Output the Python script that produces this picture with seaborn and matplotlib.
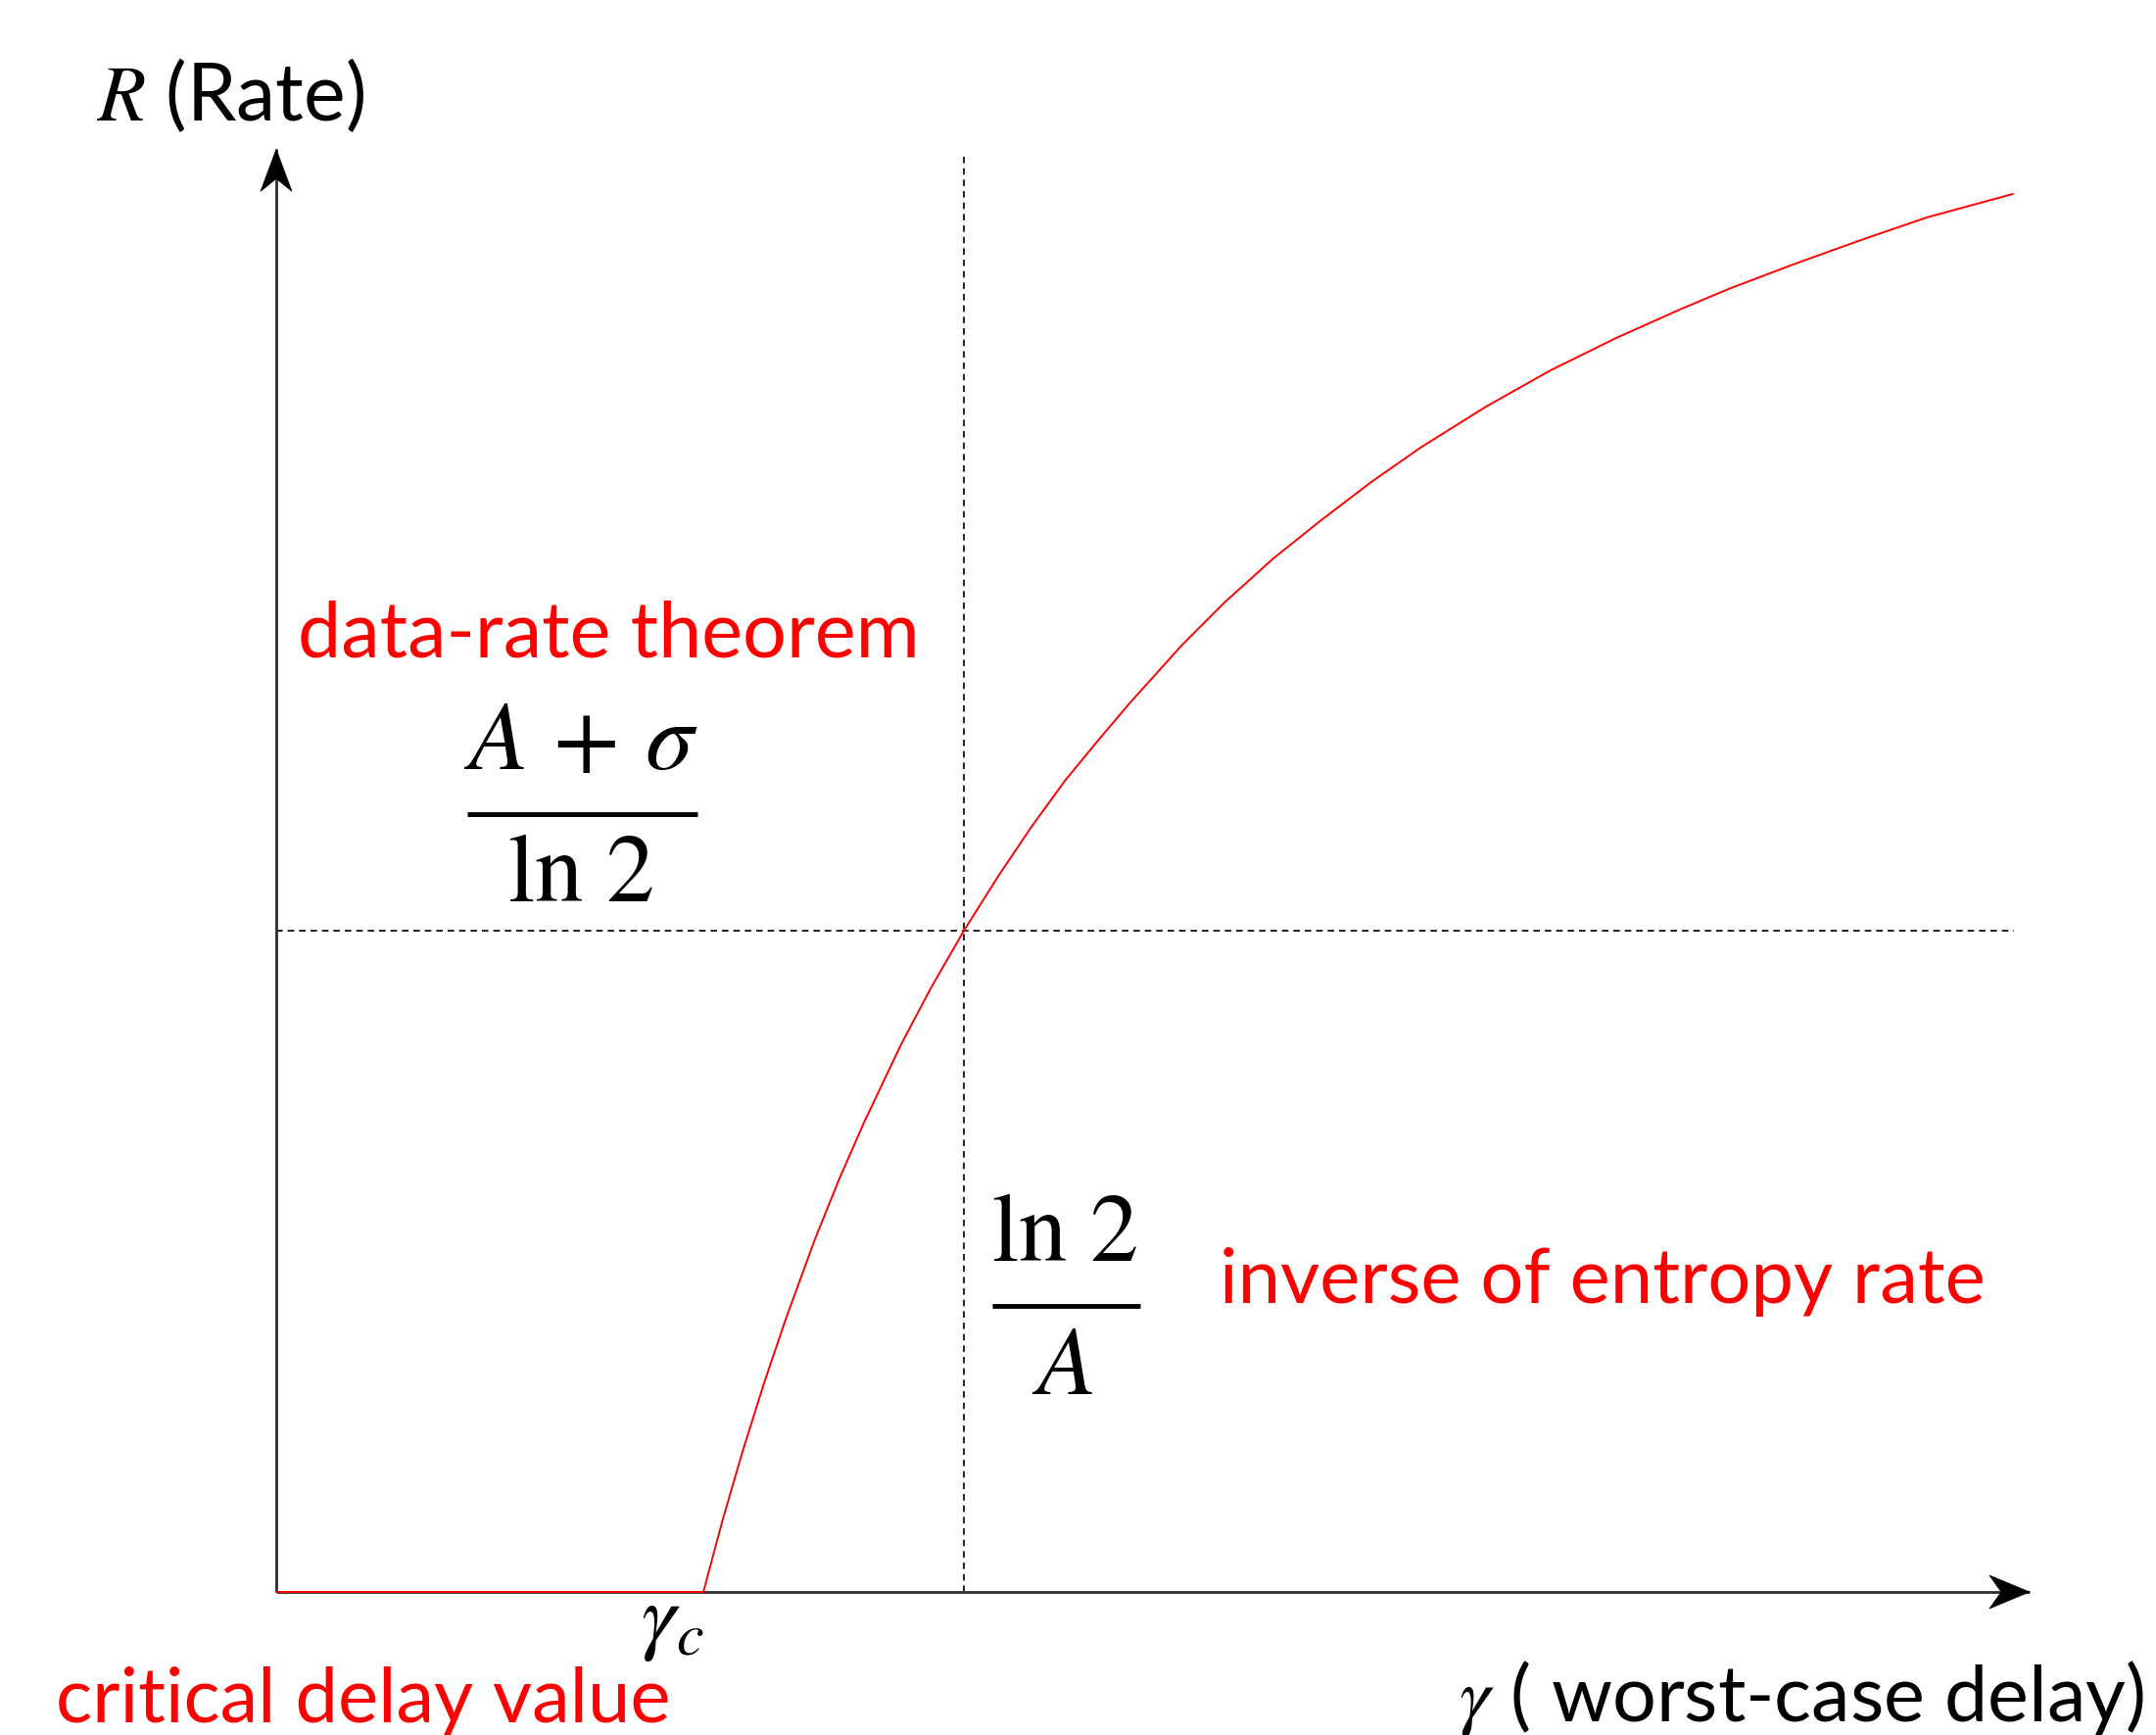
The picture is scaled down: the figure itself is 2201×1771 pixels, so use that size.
import numpy as np
import pandas as pd
import matplotlib
matplotlib.use("Agg")
import matplotlib.pyplot as plt
import matplotlib.transforms as mtransforms
from matplotlib.patches import Polygon
import seaborn as sns

# ---------------- data (arbitrary units) ----------------
gamma = [0.0, 2.458, 2.565, 2.683, 2.807, 2.931, 3.100, 3.241, 3.382, 3.596, 3.766,
         3.957, 4.160, 4.346, 4.538, 4.724, 4.910, 5.214, 5.457, 5.738, 6.020,
         6.302, 6.584, 6.962, 7.334, 7.711, 8.089, 8.371, 8.743, 9.121, 9.498, 9.994]
rate = [0.0, 0.0, 0.498, 1.002, 1.493, 1.948, 2.523, 2.957, 3.357, 3.917, 4.317,
        4.730, 5.130, 5.473, 5.802, 6.083, 6.356, 6.776, 7.078, 7.393, 7.673,
        7.940, 8.185, 8.479, 8.739, 8.970, 9.180, 9.327, 9.502, 9.671, 9.832, 10.0]
gamma_c = 2.458
gamma_cross = 3.957
rate_cross = 4.730

xlabel_text = r"$\gamma$ ( worst-case delay)"
ylabel_text = r"$R$ (Rate)"
label_theorem = "data-rate theorem"
label_entropy = "inverse of entropy rate"
label_critical = "critical delay value"
frac1_num, frac1_den = r"$A\,+\,\sigma$", r"$\ln\,2$"
frac2_num, frac2_den = r"$\ln\,2$", r"$A$"
gamma_c_label = r"$\gamma_c$"

df = pd.DataFrame({"gamma": gamma, "rate": rate})

# ---------------- style ----------------
sns.set_theme(style="white")
plt.rcParams["font.family"] = ["Lato", "DejaVu Sans"]
plt.rcParams["mathtext.fontset"] = "stix"
plt.rcParams["text.color"] = "black"

W, H, DPI = 2201, 1771, 100
fig = plt.figure(figsize=(W / DPI, H / DPI), dpi=DPI)
fig.patch.set_facecolor("white")
ax = fig.add_axes([0, 0, 1, 1])
ax.set_xlim(-1.5896, 10.8174)
ax.set_ylim(-1.0231, 11.3875)
ax.axis("off")

AX_COL = "#2e2e2e"
RED = "#ff0000"

# axes lines
ax.plot([0, 10.09], [0, 0], color=AX_COL, lw=2.0, solid_capstyle="butt", zorder=2)
ax.plot([0, 0], [0, 10.32], color=AX_COL, lw=2.0, solid_capstyle="butt", zorder=2)

def arrowhead(tip, verts):
    off = ax.transData.transform(tip)
    tr = mtransforms.Affine2D().translate(*off)
    ax.add_patch(Polygon(verts, closed=True, transform=tr, facecolor="black",
                         edgecolor="black", lw=0.5, zorder=3))

arrowhead((10.09, 0), [(0, 0), (-41, 17), (-29, 0), (-41, -17)])
arrowhead((0, 10.32), [(0, 0), (-16, -43), (0, -30), (16, -43)])

# dashed guide lines
ax.plot([gamma_cross, gamma_cross], [0, 10.27], color="black", lw=1.2,
        dashes=(4, 3), zorder=1)
ax.plot([0, 10.0], [rate_cross, rate_cross], color="black", lw=1.2,
        dashes=(4, 3), zorder=1)

# curve
sns.lineplot(data=df, x="gamma", y="rate", ax=ax, color=RED, lw=1.4,
             sort=False, estimator=None, zorder=4)
ax.set_xlabel("")
ax.set_ylabel("")

# texts
ax.text(-1.037, 10.525, ylabel_text, fontsize=58, color="black", va="baseline", ha="left")
ax.text(6.804, -0.925, xlabel_text, fontsize=57, color="black", va="baseline", ha="left")
ax.text(0.124, 6.692, label_theorem, fontsize=57, color=RED, va="baseline", ha="left")
ax.text(5.428, 2.067, label_entropy, fontsize=56, color=RED, va="baseline", ha="left")
ax.text(-1.268, -0.932, label_critical, fontsize=56, color=RED, va="baseline", ha="left")

FS_MATH = 71
ax.text(1.753, 5.886, frac1_num, fontsize=FS_MATH, color="black", ha="center", va="baseline")
ax.plot([1.099, 2.424], [5.564, 5.564], color="black", lw=3.5, solid_capstyle="butt")
ax.text(1.750, 4.940, frac1_den, fontsize=FS_MATH, color="black", ha="center", va="baseline")

ax.text(4.538, 2.369, frac2_num, fontsize=FS_MATH, color="black", ha="center", va="baseline")
ax.plot([4.121, 4.972], [2.046, 2.046], color="black", lw=3.5, solid_capstyle="butt")
ax.text(4.521, 1.416, frac2_den, fontsize=FS_MATH, color="black", ha="center", va="baseline")

ax.text(2.097, -0.37, gamma_c_label, fontsize=64, color="black", ha="left", va="baseline")

fig.savefig("out.png", dpi=DPI, facecolor="white")
